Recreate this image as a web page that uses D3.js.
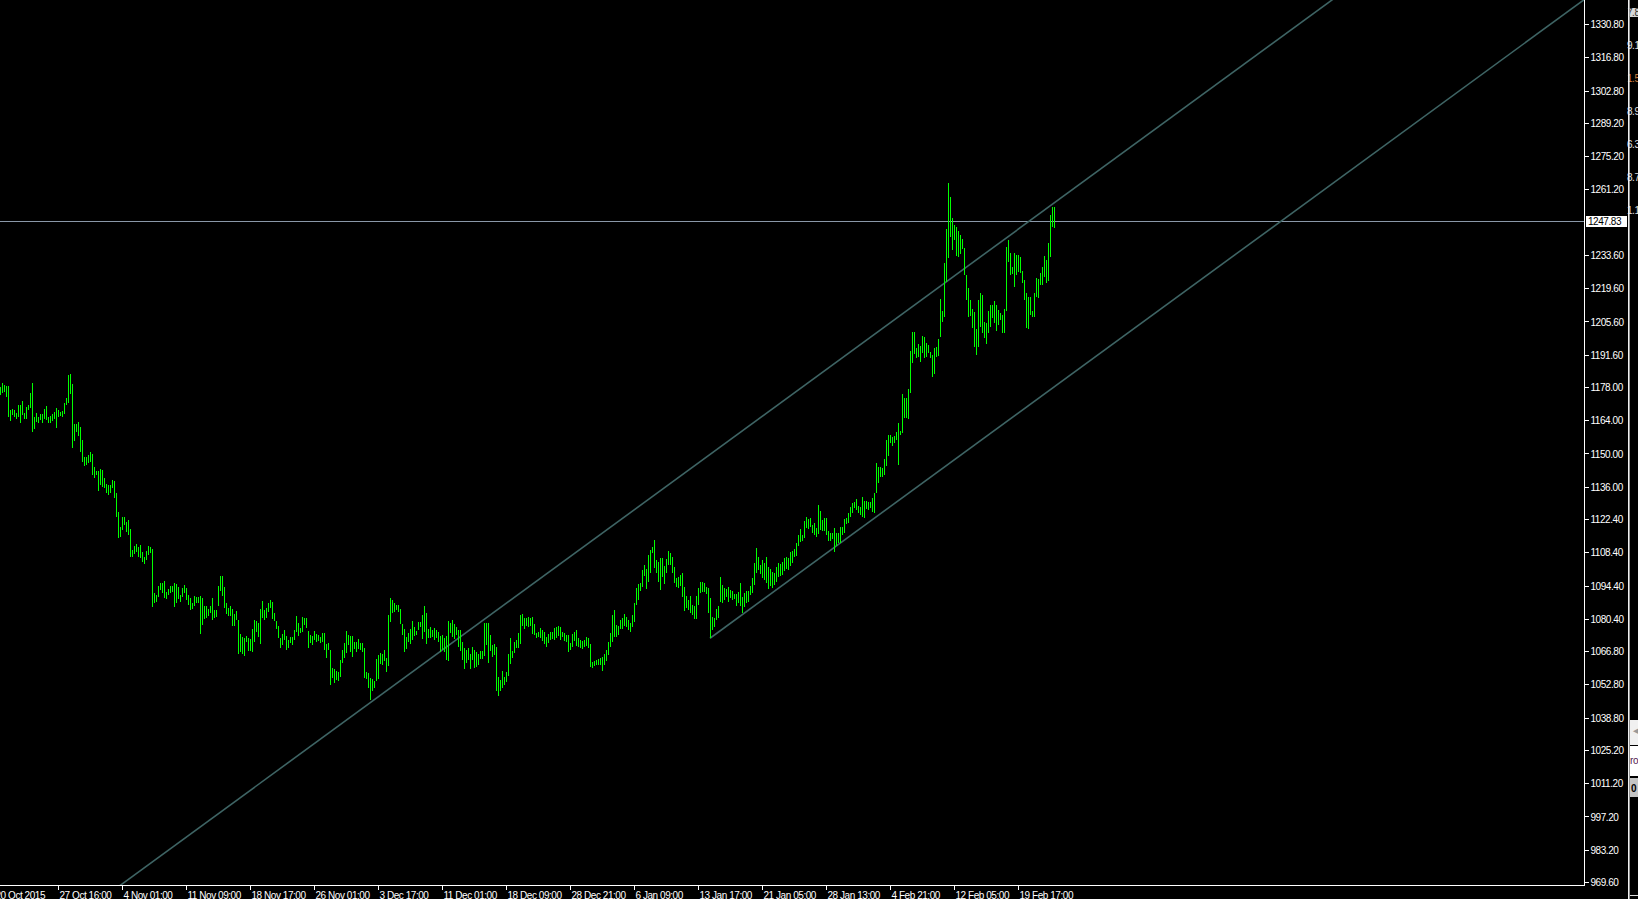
<!DOCTYPE html>
<html>
<head>
<meta charset="utf-8">
<script src="https://cdn.jsdelivr.net/npm/d3@7/dist/d3.min.js"></script>
<style>
  html, body { margin: 0; padding: 0; background: #000; }
  svg { display: block; }
  text { font-family: "Liberation Sans", Arial, sans-serif; font-size: 10px; letter-spacing: -0.45px; }
</style>
</head>
<body>
<svg width="1638" height="899"></svg>
<script>
// H4 bars (bar 0 = leftmost visible bar)
const barHigh = [
  1178.1, 1179.5, 1178.8, 1178.4, 1178.4, 1168.3, 1168.6, 1168.3, 1167.2, 1170.4,
  1170.4, 1172.1, 1166.9, 1169.7, 1170.4, 1175.6, 1179.8, 1165.5, 1167.2, 1165.5,
  1166.6, 1166.6, 1168.6, 1170.0, 1165.5, 1165.8, 1166.6, 1167.6, 1169.0, 1168.3,
  1167.6, 1168.0, 1171.4, 1173.5, 1183.2, 1183.5, 1179.3, 1162.4, 1162.4, 1163.4,
  1161.3, 1155.7, 1148.4, 1148.7, 1149.4, 1150.5, 1149.8, 1144.5, 1142.8, 1142.6,
  1143.5, 1143.0, 1139.5, 1137.2, 1136.7, 1136.7, 1138.8, 1138.6, 1133.5, 1125.5,
  1119.2, 1123.4, 1123.4, 1121.3, 1122.0, 1118.2, 1109.4, 1111.1, 1111.9, 1110.8,
  1111.5, 1108.7, 1106.6, 1109.0, 1111.1, 1110.8, 1109.8, 1091.1, 1090.4, 1094.2,
  1095.3, 1095.6, 1096.3, 1091.8, 1092.8, 1094.2, 1094.2, 1095.3, 1095.0, 1093.7,
  1090.4, 1093.5, 1094.6, 1093.2, 1090.4, 1089.3, 1087.2, 1090.0, 1089.4, 1089.4,
  1090.0, 1089.0, 1085.9, 1085.9, 1084.4, 1085.9, 1089.3, 1084.1, 1084.1, 1094.2,
  1098.4, 1098.4, 1093.9, 1086.9, 1084.8, 1085.8, 1084.4, 1082.3, 1083.7, 1079.9,
  1074.0, 1072.9, 1072.5, 1073.2, 1072.5, 1071.9, 1076.1, 1079.9, 1079.5, 1078.5,
  1084.5, 1087.9, 1084.1, 1084.8, 1086.9, 1088.3, 1087.6, 1082.7, 1079.5, 1077.5,
  1072.5, 1073.9, 1075.5, 1073.2, 1071.5, 1072.9, 1072.9, 1075.7, 1081.6, 1078.8,
  1076.7, 1081.3, 1080.9, 1080.9, 1075.3, 1073.6, 1073.2, 1075.3, 1073.9, 1073.6,
  1072.9, 1074.3, 1074.3, 1069.7, 1070.1, 1067.3, 1059.6, 1059.3, 1058.4, 1058.2,
  1063.1, 1067.3, 1070.1, 1075.3, 1073.6, 1073.2, 1073.3, 1070.5, 1070.5, 1071.9,
  1070.4, 1070.1, 1068.3, 1058.2, 1057.7, 1055.3, 1055.1, 1054.2, 1063.5, 1065.2,
  1065.9, 1065.5, 1067.3, 1063.8, 1082.0, 1089.3, 1088.3, 1087.2, 1086.2, 1086.2,
  1084.4, 1078.1, 1076.1, 1072.9, 1074.3, 1076.1, 1079.5, 1077.1, 1075.3, 1078.9,
  1079.2, 1082.0, 1085.8, 1082.7, 1076.1, 1077.1, 1075.7, 1076.7, 1075.7, 1075.0,
  1073.3, 1073.6, 1072.5, 1073.2, 1079.5, 1078.8, 1079.9, 1078.1, 1077.1, 1075.7,
  1075.7, 1070.8, 1068.0, 1067.3, 1068.2, 1065.4, 1068.7, 1067.3, 1066.3, 1065.4,
  1066.9, 1066.9, 1078.5, 1078.5, 1078.5, 1073.6, 1069.4, 1069.7, 1068.7, 1056.0,
  1054.6, 1058.4, 1056.0, 1057.9, 1065.4, 1072.5, 1066.9, 1070.5, 1071.5, 1074.3,
  1082.0, 1082.3, 1080.9, 1080.6, 1081.3, 1080.9, 1081.3, 1078.1, 1074.3, 1075.0,
  1076.4, 1075.7, 1074.7, 1072.9, 1073.9, 1075.0, 1074.7, 1076.7, 1077.1, 1077.5,
  1077.1, 1075.0, 1074.3, 1073.6, 1073.6, 1070.1, 1073.9, 1075.0, 1075.7, 1072.5,
  1071.5, 1071.1, 1071.5, 1072.9, 1072.2, 1069.7, 1062.4, 1062.6, 1063.1, 1063.5,
  1063.8, 1064.2, 1065.5, 1067.1, 1070.7, 1074.3, 1082.0, 1084.1, 1077.8, 1077.4,
  1079.9, 1080.6, 1082.3, 1081.3, 1079.9, 1078.8, 1082.0, 1086.9, 1093.2, 1095.1,
  1095.6, 1100.9, 1103.0, 1101.2, 1107.3, 1109.4, 1110.8, 1113.6, 1105.2, 1104.5,
  1105.9, 1105.9, 1102.6, 1105.4, 1108.9, 1108.0, 1106.6, 1102.3, 1097.4, 1097.9,
  1098.8, 1099.5, 1093.9, 1090.0, 1088.3, 1090.0, 1086.2, 1085.8, 1090.0, 1093.2,
  1096.0, 1096.0, 1095.6, 1093.9, 1093.2, 1089.0, 1081.3, 1080.6, 1084.4, 1085.8,
  1097.9, 1094.6, 1093.2, 1092.8, 1093.7, 1092.5, 1092.3, 1090.9, 1090.9, 1091.8,
  1095.3, 1089.4, 1091.4, 1092.3, 1092.3, 1094.2, 1097.4, 1103.8, 1110.1, 1106.6,
  1103.0, 1105.2, 1104.0, 1106.3, 1102.3, 1101.5, 1100.0, 1099.5, 1102.0, 1104.0,
  1103.5, 1104.5, 1106.0, 1106.5, 1105.9, 1108.7, 1109.1, 1109.7, 1112.2, 1115.7,
  1118.1, 1115.7, 1121.7, 1123.4, 1122.3, 1122.7, 1119.9, 1120.6, 1118.5, 1128.3,
  1125.9, 1122.0, 1122.7, 1122.7, 1117.5, 1116.7, 1116.7, 1118.5, 1116.4, 1116.7,
  1118.9, 1119.2, 1122.3, 1122.7, 1124.8, 1127.6, 1129.3, 1129.7, 1130.7, 1127.9,
  1127.3, 1131.8, 1130.1, 1130.0, 1129.7, 1129.7, 1131.1, 1133.5, 1145.9, 1144.5,
  1144.5, 1143.8, 1147.5, 1155.7, 1157.8, 1157.8, 1157.1, 1157.4, 1159.2, 1163.0,
  1159.6, 1175.0, 1173.2, 1173.2, 1177.0, 1193.3, 1201.3, 1201.3, 1194.3, 1196.1,
  1195.3, 1199.5, 1198.9, 1196.7, 1195.7, 1192.9, 1191.5, 1194.3, 1194.7, 1198.1,
  1214.9, 1210.1, 1230.3, 1244.4, 1264.0, 1258.1, 1249.0, 1246.2, 1245.5, 1243.8,
  1242.0, 1240.2, 1236.4, 1225.1, 1219.6, 1214.6, 1210.7, 1209.7, 1202.3, 1214.6,
  1217.7, 1216.7, 1205.5, 1205.1, 1210.1, 1212.5, 1212.5, 1214.3, 1212.5, 1210.4,
  1209.3, 1208.3, 1210.7, 1236.8, 1239.9, 1234.6, 1228.7, 1234.6, 1233.6, 1233.6,
  1232.9, 1227.0, 1223.0, 1217.7, 1215.7, 1215.7, 1210.1, 1217.7, 1223.7, 1223.3,
  1225.8, 1228.7, 1233.2, 1231.5, 1238.5, 1250.4, 1253.6, 1253.9
];
const barLow = [
  1174.6, 1175.3, 1176.0, 1173.6, 1165.2, 1163.8, 1166.2, 1165.5, 1164.7, 1165.5,
  1163.0, 1166.2, 1164.7, 1164.7, 1168.3, 1169.0, 1159.2, 1160.2, 1163.4, 1162.7,
  1164.1, 1162.7, 1164.4, 1164.1, 1163.0, 1162.7, 1163.8, 1164.4, 1160.9, 1165.5,
  1165.8, 1165.5, 1166.6, 1170.4, 1171.1, 1174.9, 1152.5, 1155.4, 1159.2, 1157.4,
  1150.8, 1146.6, 1144.7, 1145.2, 1145.9, 1146.6, 1140.8, 1139.5, 1141.0, 1134.3,
  1136.7, 1136.0, 1135.3, 1133.2, 1132.5, 1133.2, 1135.3, 1131.1, 1123.1, 1114.6,
  1115.0, 1117.8, 1119.9, 1117.1, 1115.7, 1106.6, 1106.6, 1107.7, 1108.7, 1106.6,
  1105.9, 1104.5, 1103.3, 1105.2, 1107.3, 1108.0, 1085.5, 1086.9, 1087.6, 1089.4,
  1092.5, 1091.1, 1089.0, 1088.6, 1090.4, 1091.1, 1091.8, 1085.5, 1086.9, 1088.6,
  1087.6, 1089.7, 1091.1, 1088.3, 1086.2, 1084.1, 1084.4, 1085.8, 1087.2, 1086.9,
  1074.0, 1077.8, 1080.3, 1080.6, 1081.7, 1082.7, 1079.9, 1080.6, 1081.2, 1085.8,
  1092.2, 1090.1, 1084.8, 1082.3, 1081.7, 1081.7, 1077.5, 1077.5, 1079.9, 1065.7,
  1066.6, 1065.5, 1064.8, 1070.5, 1066.9, 1066.9, 1066.3, 1070.5, 1074.7, 1072.9,
  1069.7, 1080.6, 1079.9, 1080.6, 1083.1, 1084.8, 1080.3, 1079.5, 1076.1, 1072.5,
  1068.0, 1069.4, 1071.5, 1067.3, 1068.3, 1070.1, 1069.4, 1071.5, 1074.7, 1073.3,
  1074.3, 1075.0, 1077.8, 1076.4, 1068.3, 1070.1, 1069.4, 1071.5, 1070.5, 1071.1,
  1070.1, 1070.8, 1067.3, 1064.0, 1067.3, 1052.5, 1055.6, 1053.5, 1054.6, 1054.2,
  1056.1, 1061.7, 1063.8, 1065.9, 1069.4, 1066.6, 1064.5, 1067.7, 1066.6, 1067.7,
  1067.3, 1066.6, 1055.3, 1055.1, 1051.1, 1046.2, 1050.0, 1051.1, 1054.2, 1055.1,
  1061.2, 1061.0, 1062.6, 1058.2, 1060.7, 1079.2, 1082.7, 1083.4, 1084.1, 1083.4,
  1078.1, 1073.6, 1066.6, 1067.7, 1070.8, 1069.7, 1071.5, 1073.3, 1073.6, 1075.7,
  1077.1, 1071.9, 1074.7, 1069.7, 1072.2, 1072.5, 1072.9, 1071.5, 1072.2, 1070.5,
  1066.5, 1067.2, 1066.3, 1063.1, 1062.6, 1074.3, 1072.9, 1071.9, 1073.5, 1068.7,
  1066.9, 1063.1, 1059.3, 1061.7, 1063.1, 1059.3, 1063.1, 1059.8, 1060.3, 1061.0,
  1063.5, 1063.5, 1064.9, 1069.4, 1061.9, 1066.9, 1064.4, 1065.2, 1050.0, 1048.1,
  1050.0, 1051.1, 1052.5, 1053.9, 1056.5, 1061.2, 1064.1, 1065.9, 1068.0, 1068.0,
  1069.7, 1077.5, 1076.1, 1077.5, 1077.1, 1077.5, 1073.9, 1073.6, 1072.2, 1072.9,
  1072.5, 1071.1, 1069.7, 1068.7, 1070.1, 1071.5, 1071.9, 1071.5, 1072.2, 1073.3,
  1071.5, 1072.9, 1071.1, 1070.5, 1066.5, 1067.3, 1068.7, 1071.1, 1069.1, 1068.7,
  1068.3, 1067.7, 1068.7, 1069.1, 1068.0, 1060.3, 1059.6, 1060.7, 1061.0, 1061.0,
  1060.8, 1058.6, 1061.0, 1062.5, 1065.2, 1068.7, 1070.8, 1072.9, 1072.6, 1073.6,
  1076.0, 1076.0, 1077.4, 1076.8, 1075.7, 1075.0, 1077.1, 1079.2, 1086.2, 1088.3,
  1092.3, 1093.9, 1098.4, 1092.8, 1096.0, 1099.5, 1108.0, 1101.6, 1099.5, 1096.0,
  1092.5, 1098.1, 1095.1, 1099.5, 1103.0, 1103.0, 1099.5, 1095.6, 1093.9, 1093.2,
  1094.2, 1089.7, 1083.8, 1084.8, 1084.1, 1082.7, 1082.0, 1080.2, 1080.2, 1086.2,
  1091.4, 1091.8, 1091.8, 1090.9, 1082.7, 1072.2, 1075.7, 1076.8, 1079.9, 1080.6,
  1087.6, 1086.9, 1088.3, 1089.7, 1087.6, 1089.0, 1088.3, 1088.6, 1085.8, 1086.9,
  1085.8, 1082.7, 1085.2, 1087.2, 1087.6, 1090.4, 1091.4, 1094.6, 1099.8, 1100.9,
  1099.3, 1097.4, 1096.7, 1095.6, 1092.8, 1094.0, 1093.5, 1094.5, 1096.0, 1098.0,
  1098.5, 1099.0, 1100.5, 1101.5, 1101.0, 1102.5, 1104.0, 1106.6, 1106.9, 1111.1,
  1112.9, 1113.3, 1114.3, 1118.5, 1118.1, 1119.2, 1116.7, 1115.7, 1115.0, 1116.1,
  1117.8, 1117.5, 1117.5, 1115.7, 1113.3, 1113.3, 1113.9, 1108.7, 1111.1, 1112.5,
  1112.5, 1115.7, 1116.4, 1120.3, 1120.9, 1123.4, 1124.8, 1126.9, 1126.2, 1124.8,
  1124.1, 1123.4, 1122.7, 1126.5, 1126.0, 1126.9, 1125.5, 1125.1, 1133.2, 1137.4,
  1140.0, 1140.3, 1140.9, 1144.7, 1148.9, 1154.6, 1153.2, 1154.6, 1155.7, 1145.2,
  1157.8, 1158.5, 1164.8, 1164.8, 1164.4, 1175.5, 1188.0, 1192.0, 1190.1, 1190.8,
  1188.5, 1192.2, 1190.1, 1190.8, 1192.2, 1190.1, 1182.0, 1183.5, 1190.8, 1191.0,
  1199.2, 1205.5, 1207.6, 1222.3, 1232.2, 1241.3, 1235.7, 1239.9, 1233.2, 1232.6,
  1234.0, 1236.0, 1225.1, 1214.6, 1207.6, 1207.9, 1202.7, 1195.0, 1191.5, 1195.0,
  1203.4, 1200.6, 1198.5, 1196.1, 1200.6, 1203.4, 1206.9, 1205.1, 1201.7, 1204.1,
  1206.2, 1200.9, 1200.6, 1210.1, 1230.8, 1225.1, 1225.6, 1220.2, 1225.1, 1226.6,
  1225.8, 1221.9, 1214.6, 1202.7, 1202.3, 1208.3, 1207.3, 1207.3, 1215.7, 1215.3,
  1220.9, 1220.9, 1224.4, 1221.9, 1222.8, 1232.9, 1245.2, 1244.8
];

const lastPrice = 1247.83;

const priceTicks = [1330.8, 1316.8, 1302.8, 1289.2, 1275.2, 1261.2, 1233.6, 1219.6,
  1205.6, 1191.6, 1178.0, 1164.0, 1150.0, 1136.0, 1122.4, 1108.4, 1094.4, 1080.4,
  1066.8, 1052.8, 1038.8, 1025.2, 1011.2, 997.2, 983.2, 969.6];

const dateTickBars = [-3, 29, 61, 93, 125, 157, 189, 221, 253, 285, 317, 349, 381, 413, 445, 477, 509];
const dateLabels = ["20 Oct 2015", "27 Oct 16:00", "4 Nov 01:00", "11 Nov 09:00", "18 Nov 17:00",
  "26 Nov 01:00", "3 Dec 17:00", "11 Dec 01:00", "18 Dec 09:00", "28 Dec 21:00", "6 Jan 09:00",
  "13 Jan 17:00", "21 Jan 05:00", "28 Jan 13:00", "4 Feb 21:00", "12 Feb 05:00", "19 Feb 17:00"];

// trend lines: two anchors each (bar index, price)
const upperLine = [{ bar: 185, price: 1045.0 }, { bar: 527, price: 1255.4 }];
const lowerLine = [{ bar: 355, price: 1072.2 }, { bar: 527, price: 1178.0 }];

// side panel leftovers (neighbouring window)
const sideValues = ["7.8", "9.1", "1.5", "8.9", "6.3", "8.7", "1.1"];

const plotW = 1584, plotH = 885;
const svg = d3.select("svg");

const x = d3.scaleLinear().domain([0, 792]).range([0, plotW]);
const y = d3.scaleLinear().domain([969.6, 1330.8]).range([881.97, 24]);

svg.append("rect").attr("width", 1638).attr("height", 899).attr("fill", "#000");

svg.append("defs").append("clipPath").attr("id", "plot")
  .append("rect").attr("width", plotW).attr("height", plotH);

const plot = svg.append("g").attr("clip-path", "url(#plot)");

// bid line
plot.append("line")
  .attr("x1", 0).attr("x2", plotW)
  .attr("y1", Math.round(y(lastPrice)) + 0.5).attr("y2", Math.round(y(lastPrice)) + 0.5)
  .attr("stroke", "#8a98a8").attr("stroke-width", 1);

// trend lines
function lineAt(pts, b) {
  const slope = (pts[1].price - pts[0].price) / (pts[1].bar - pts[0].bar);
  return pts[0].price + (b - pts[0].bar) * slope;
}
[[upperLine, -200], [lowerLine, lowerLine[0].bar]].forEach(([pts, from]) => {
  plot.append("line")
    .attr("x1", x(from)).attr("y1", y(lineAt(pts, from)))
    .attr("x2", x(800)).attr("y2", y(lineAt(pts, 800)))
    .attr("stroke", "#3e6464").attr("stroke-width", 1.6);
});

// bars (high-low)
plot.append("g")
  .selectAll("line")
  .data(d3.range(barHigh.length))
  .join("line")
  .attr("x1", i => x(i) + 0.5).attr("x2", i => x(i) + 0.5)
  .attr("y1", i => Math.round(y(barHigh[i])))
  .attr("y2", i => Math.max(Math.round(y(barLow[i])), Math.round(y(barHigh[i])) + 2))
  .attr("stroke", "#00ff00").attr("stroke-width", 1)
  .attr("shape-rendering", "crispEdges");

// price axis
const yAxis = svg.append("g")
  .attr("transform", `translate(${plotW + 0.5},0)`)
  .call(d3.axisRight(y).tickValues(priceTicks).tickFormat(d3.format(".2f")).tickSize(4).tickPadding(2));
yAxis.select(".domain").remove();
yAxis.selectAll("line").attr("stroke", "#fff").attr("shape-rendering", "crispEdges");
yAxis.selectAll("text").attr("fill", "#fff").attr("font-family", null).attr("font-size", null)
  .attr("dy", "0.36em");

// time axis
const xAxis = svg.append("g")
  .attr("transform", `translate(0,${plotH + 0.5})`)
  .call(d3.axisBottom(x).tickValues(dateTickBars).tickFormat((d, i) => dateLabels[i]).tickSize(4));
xAxis.select(".domain").remove();
xAxis.selectAll("line").attr("stroke", "#fff").attr("shape-rendering", "crispEdges");
xAxis.selectAll("text")
  .attr("fill", "#fff").attr("font-family", null).attr("font-size", null)
  .attr("text-anchor", "start").attr("x", 1).attr("y", 13).attr("dy", null);

// frame lines
svg.append("line").attr("x1", plotW + 0.5).attr("x2", plotW + 0.5).attr("y1", 0).attr("y2", plotH + 1)
  .attr("stroke", "#fff");
svg.append("line").attr("x1", 0).attr("x2", plotW + 1).attr("y1", plotH + 0.5).attr("y2", plotH + 0.5)
  .attr("stroke", "#fff");

// last price label
const py = y(lastPrice);
svg.append("rect").attr("x", plotW + 2).attr("y", Math.round(py) - 5)
  .attr("width", 41).attr("height", 11).attr("fill", "#fff");
svg.append("text").attr("x", plotW + 4).attr("y", Math.round(py) + 4)
  .attr("fill", "#000").text(d3.format(".2f")(lastPrice));

// neighbouring window edge
const side = svg.append("g");
side.append("rect").attr("x", 1630).attr("y", 8).attr("width", 8).attr("height", 9).attr("fill", "#d8d8d8");
side.selectAll("text.v").data(sideValues).join("text")
  .attr("class", "v")
  .attr("x", 1627).attr("y", (d, i) => 16 + i * 33)
  .attr("fill", (d, i) => i === 0 ? "#333" : (i === 2 ? "#d08040" : "#e0e0e0"))
  .text(d => d);
side.append("rect").attr("x", 1630).attr("y", 720).attr("width", 8).attr("height", 25).attr("fill", "#f0f0f0");
side.append("text").attr("x", 1631).attr("y", 734).attr("fill", "#999").attr("font-size", "7px").text("◄");
side.append("rect").attr("x", 1630).attr("y", 746).attr("width", 8).attr("height", 30).attr("fill", "#fff");
side.append("text").attr("x", 1630).attr("y", 764).attr("fill", "#502050").text("ro");
side.append("rect").attr("x", 1630).attr("y", 778).attr("width", 8).attr("height", 19).attr("fill", "#c4c4c4");
side.append("text").attr("x", 1631).attr("y", 792).attr("fill", "#000").attr("font-weight", "bold").attr("font-size", "11px").text("0");
side.append("line").attr("x1", 1630).attr("x2", 1638).attr("y1", 895.5).attr("y2", 895.5).attr("stroke", "#ddd");
side.append("rect").attr("x", 1628).attr("y", 0).attr("width", 1.6).attr("height", 899).attr("fill", "#f0f0f0");
</script>
</body>
</html>
